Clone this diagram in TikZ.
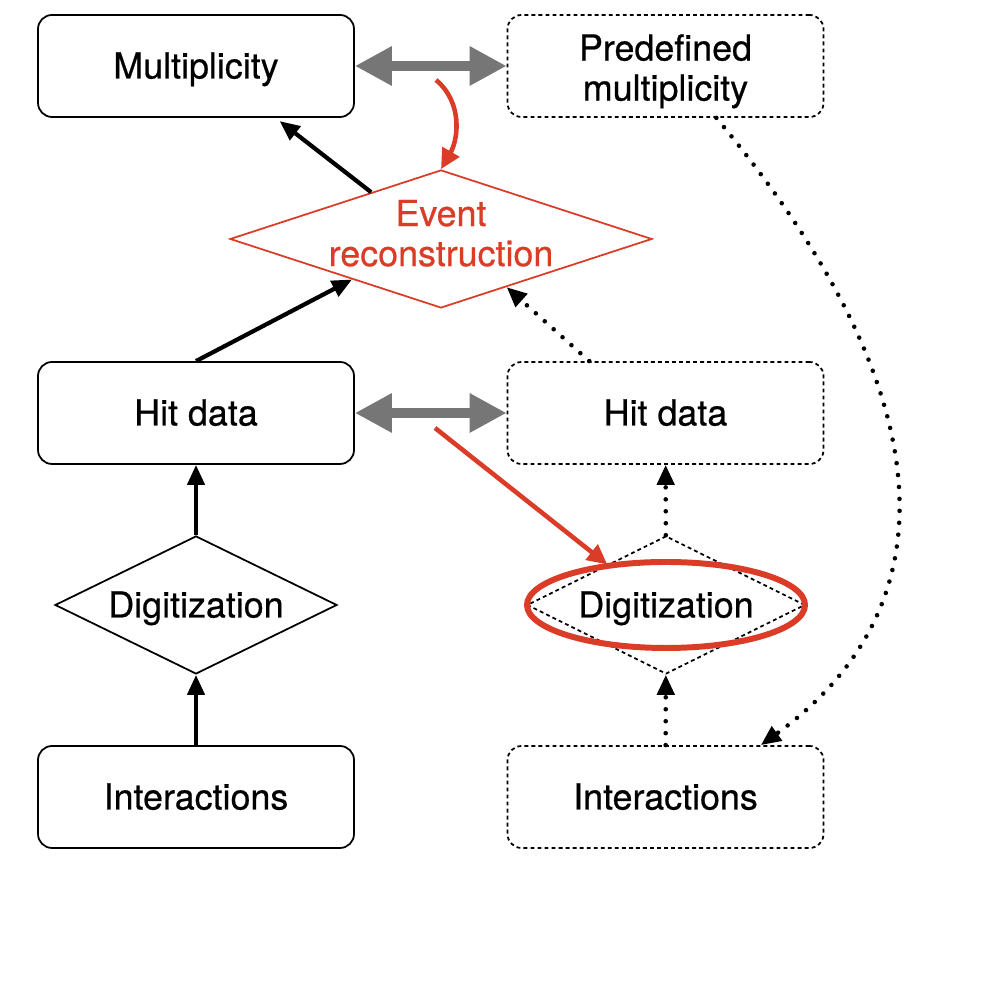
\documentclass[tikz,border=0pt]{standalone}
\usepackage{fontspec}
\setmainfont{TeX Gyre Heros}[FakeBold=0.6]
\usetikzlibrary{shapes.geometric,arrows.meta,calc}
\definecolor{recored}{RGB}{218,60,40}
\definecolor{linkgray}{RGB}{118,118,118}

\begin{document}
\begin{tikzpicture}[font=\fontsize{10.2}{11.4}\selectfont,
    box/.style={draw, rounded corners=4pt, line width=0.5pt, minimum width=3.16cm, minimum height=1.02cm, align=center},
    oneline/.style={text height=0.25cm, text depth=0pt},
    simbox/.style={box, dash pattern=on 1.1pt off 0.9pt},
    decision/.style={diamond, draw, aspect=2, line width=0.5pt, inner sep=0pt, minimum width=2.82cm, minimum height=1.38cm, align=center},
    flow/.style={-{Triangle[length=0.2cm,width=0.17cm]}, line width=1.2pt},
    dotflow/.style={-{Triangle[length=0.2cm,width=0.17cm]}, line width=1.3pt, line cap=round, dash pattern=on 0pt off 3.4pt},
    twoway/.style={{Triangle[length=0.37cm,width=0.37cm]}-{Triangle[length=0.37cm,width=0.37cm]}, line width=2.6pt, linkgray},
    recoarrow/.style={-{Triangle[length=0.2cm,width=0.19cm]}, line width=1.3pt, recored}]
    \useasboundingbox (0,0) rectangle (10,10);

    % data side
    \node[box, oneline] (mult) at (1.96,9.34) {Multiplicity};
    \node[box, oneline] (hit) at (1.96,5.87) {Hit data};
    \node[decision, oneline] (digi) at (1.96,3.95) {Digitization};
    \node[box, oneline] (inter) at (1.96,2.03) {Interactions};

    % simulation side
    \node[simbox, inner ysep=0pt, text height=0.77cm] (predef) at (6.655,9.34) {Predefined\\multiplicity};
    \node[simbox, oneline] (hitsim) at (6.655,5.87) {Hit data};
    \node[decision, oneline, dash pattern=on 1.1pt off 0.9pt, minimum width=2.78cm] (digisim) at (6.66,3.95) {Digitization};
    \node[simbox, oneline] (intersim) at (6.655,2.03) {Interactions};

    % reconstruction
    \node[decision, recored, text=recored, aspect=3, inner xsep=-3mm, inner ysep=-3mm, text depth=0.12cm, minimum width=4.22cm] (reco) at (4.41,7.61) {Event\\reconstruction};

    \draw[flow] (inter) -- (digi);
    \draw[flow] (digi) -- (hit);
    \draw[flow] (hit.north) -- ($(reco.west)!0.58!(reco.south)$);
    \draw[flow, shorten >=1.5pt] ($(reco.west)!0.67!(reco.north)$) -- ($(mult.south)!0.5!(mult.south east)$);

    \draw[dotflow] (intersim) -- (digisim);
    \draw[dotflow] (digisim) -- (hitsim);
    \draw[dotflow] ($(hitsim.north west)!0.26!(hitsim.north east)$) -- ($(reco.south)!0.31!(reco.east)$);
    \coordinate (predefout) at ($(predef.south west)!0.66!(predef.south east)$);
    \coordinate (interin) at ($(intersim.north west)!0.80!(intersim.north east)$);
    \draw[dotflow] (predefout) .. controls (9.56,5.94) and (9.44,3.87) .. (interin);

    \draw[twoway] (mult) -- (predef);
    \draw[twoway] (hit) -- (hitsim);

    % highlighted changes
    \coordinate (recoin) at (4.36,9.20);
    \draw[recoarrow] (recoin) to[out=-40,in=60] (reco.north);
    \coordinate (digiin) at (4.35,5.72);
    \draw[recoarrow] (digiin) -- ($(digisim.west)!0.58!(digisim.north)$);
    \draw[recored, line width=1.7pt] (digisim) ellipse [x radius=1.39, y radius=0.43];
\end{tikzpicture}
\end{document}
